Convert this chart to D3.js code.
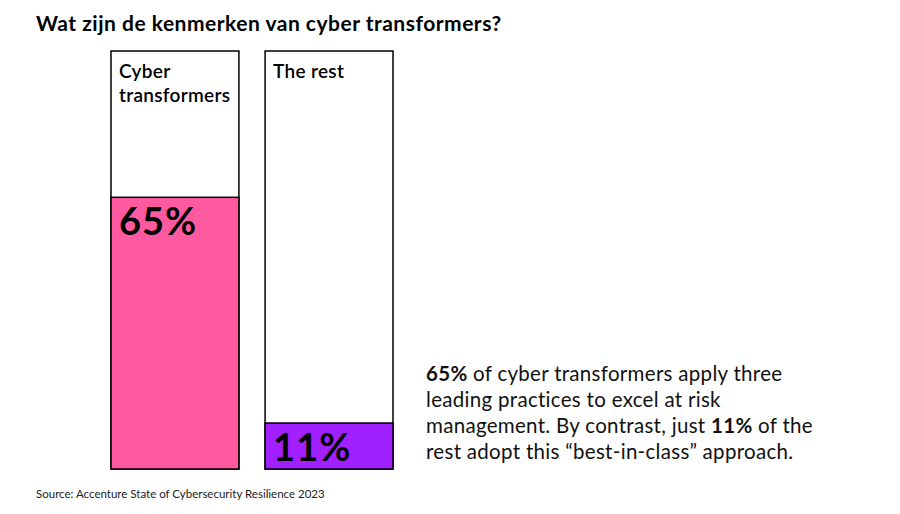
<!DOCTYPE html>
<html>
<head>
<meta charset="utf-8">
<script src="https://cdn.jsdelivr.net/npm/d3@7"></script>
<style>
  body { margin: 0; background: #fff; font-family: Lato, "Noto Sans", sans-serif; }
</style>
</head>
<body>
<div id="chart"></div>
<script>
const categories = ['Cyber transformers', 'The rest'];
const values = [65, 11];
const colors = ['#ff5aa0', '#a020ff'];

const width = 900, height = 514;
const svg = d3.select('#chart').append('svg')
  .attr('width', width).attr('height', height);

svg.append('text')
  .attr('x', 36).attr('y', 31)
  .attr('font-size', 21).attr('font-weight', 700).attr('letter-spacing', 0.5)
  .text('Wat zijn de kenmerken van cyber transformers?');

const x = d3.scaleBand().domain(categories).range([111, 393]).paddingInner(0.17).paddingOuter(0);
const y = d3.scaleLinear().domain([0, 100]).range([469, 51]);

const bars = svg.selectAll('.bar').data(categories).join('g').attr('class', 'bar');

bars.append('rect')
  .attr('x', d => x(d)).attr('y', y(100))
  .attr('width', x.bandwidth()).attr('height', y(0) - y(100))
  .attr('fill', '#fff').attr('stroke', '#000').attr('stroke-width', 1.5);

bars.append('rect')
  .attr('x', d => x(d)).attr('y', (d, i) => y(values[i]))
  .attr('width', x.bandwidth()).attr('height', (d, i) => y(0) - y(values[i]))
  .attr('fill', (d, i) => colors[i]).attr('stroke', '#000').attr('stroke-width', 1.5);

// category labels
bars.each(function (d) {
  const words = d === 'Cyber transformers' ? ['Cyber', 'transformers'] : [d];
  const t = d3.select(this).append('text')
    .attr('font-size', 19).attr('font-weight', 600).attr('letter-spacing', 0.3);
  words.forEach((w, k) => t.append('tspan')
    .attr('x', x(d) + 8).attr('y', 78 + k * 24).text(w));
});

// value labels
bars.append('text')
  .attr('x', d => x(d) + 8)
  .attr('y', (d, i) => y(values[i]) + 38)
  .attr('font-size', 38).attr('font-weight', 700).attr('letter-spacing', 1)
  .text((d, i) => values[i] + '%');

// annotation
const note = [
  [['65%', true], [' of cyber transformers apply three', false]],
  [['leading practices to excel at risk', false]],
  [['management. By contrast, just ', false], ['11%', true], [' of the', false]],
  [['rest adopt this \u201cbest-in-class\u201d approach.', false]]
];
const nt = svg.append('text').attr('font-size', 20.5).attr('fill', '#111').attr('letter-spacing', 0.3);
note.forEach((line, k) => {
  line.forEach(([s, b], j) => {
    const ts = nt.append('tspan').text(s).attr('font-weight', b ? 700 : 400);
    if (j === 0) ts.attr('x', 426).attr('y', 381 + k * 26);
  });
});

svg.append('text')
  .attr('x', 36).attr('y', 498)
  .attr('font-size', 11.5).attr('fill', '#222')
  .text('Source: Accenture State of Cybersecurity Resilience 2023');
</script>
</body>
</html>
